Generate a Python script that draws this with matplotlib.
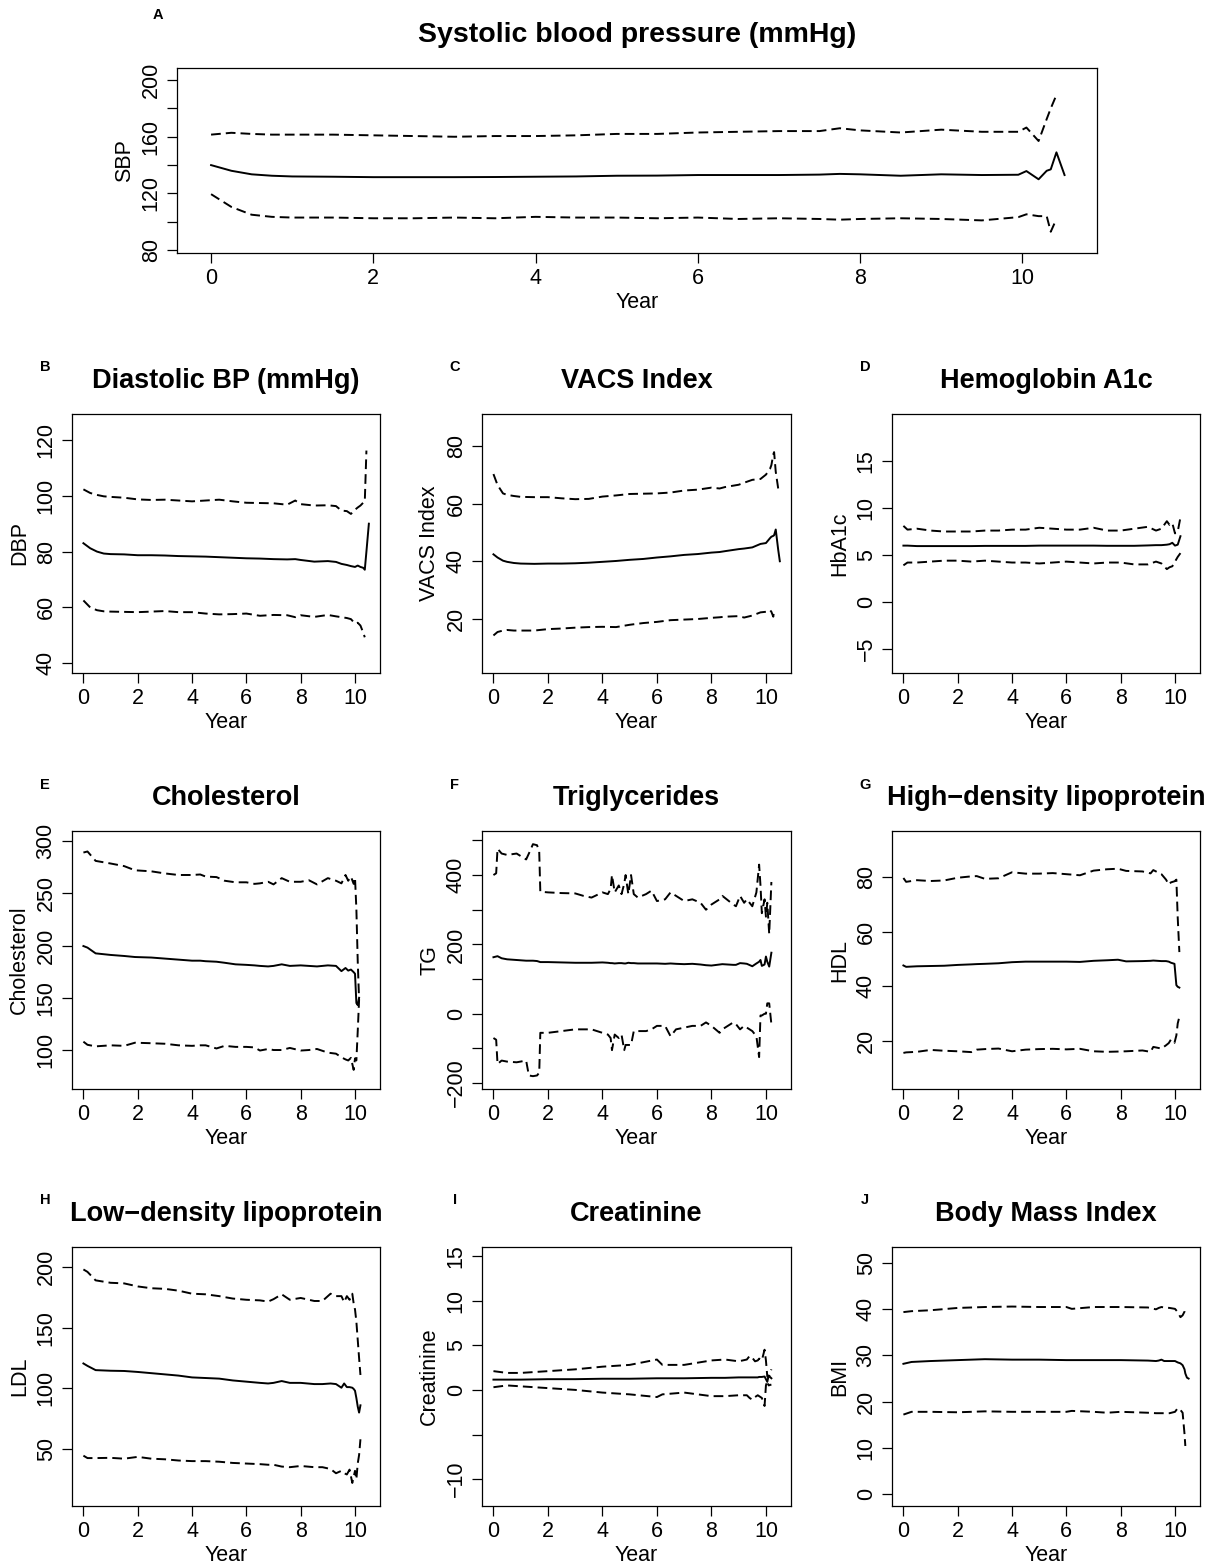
import numpy as np
import matplotlib
matplotlib.use("Agg")
from matplotlib import pyplot as plt

plt.rcParams['font.family'] = ['Liberation Sans', 'DejaVu Sans']

nan = np.nan

# A: systolic blood pressure
sbp_yr = [0, 0.25, 0.5, 0.75, 1, 1.5, 2, 2.5, 3, 3.5, 4, 4.5, 5, 5.5, 6, 6.5, 7, 7.5, 7.75, 8,
          8.5, 9, 9.5, 9.95, 10.05, 10.2, 10.3, 10.35, 10.42, 10.52]
sbp_mid = [140, 136, 133.5, 132.5, 132, 131.8, 131.5, 131.5, 131.5, 131.6, 131.8, 132, 132.5, 132.6,
           133, 133, 133, 133.3, 133.8, 133.5, 132.5, 133.5, 133, 133.2, 135.8, 130, 136, 137, 149, 133]
sbp_hi = [161.5, 162.8, 162, 161.5, 161.5, 161.5, 161, 160.5, 160, 160.5, 160.5, 161, 162, 162, 163,
          163.5, 164, 164, 166, 164.5, 163, 165, 163.5, 163.5, 166.5, 157, 172.5, 180, 189.5, nan]
sbp_lo = [119.5, 110.5, 105, 103.5, 103, 103, 102.5, 102.5, 103, 102.5, 103.5, 103, 103, 102.5, 103,
          102, 102.5, 102, 101.5, 102, 102.5, 102, 101, 103.3, 105.3, 104, 104, 93, 102, nan]

# B: diastolic BP
dbp_yr = [0, 0.25, 0.5, 0.75, 1, 1.5, 2, 2.5, 3, 3.5, 4, 4.5, 5, 5.5, 6, 6.5, 7, 7.5, 7.8, 8,
          8.5, 9, 9.3, 9.5, 9.7, 9.85, 10, 10.1, 10.2, 10.3, 10.36, 10.42, 10.51]
dbp_mid = [83, 81.2, 80, 79.3, 79.1, 79, 78.7, 78.7, 78.6, 78.4, 78.3, 78.2, 78, 77.8, 77.6, 77.5,
           77.3, 77.2, 77.3, 77, 76.4, 76.6, 76.3, 75.6, 75.2, 74.8, 74.5, 75, 74.5, 74.2, 73.5, 80, 90]
dbp_hi = [102.3, 101, 100.3, 99.8, 99.6, 99.3, 98.7, 98.5, 98.6, 98.3, 98, 98.3, 98.6, 98, 97.5, 97.4,
          97.3, 96.8, 98.3, 97, 96.5, 96.6, 96.3, 94.7, 94.5, 93.5, 95, 95.8, 96.5, 97.5, 98, 116.2, nan]
dbp_lo = [62.5, 60, 59, 58.6, 58.5, 58.4, 58.3, 58.5, 58.7, 58.3, 58.3, 57.8, 57.5, 57.6, 57.8, 57,
          57.3, 57.2, 56.5, 57.2, 56.6, 57.3, 56.8, 56.5, 56.2, 55.8, 54.2, 54.5, 53.5, 51, 49.3, nan, nan]

# C: VACS index
vacs_yr = [0, 0.15, 0.35, 0.5, 0.75, 1, 1.5, 2, 2.5, 3, 3.5, 4, 4.5, 5, 5.5, 6, 6.5, 7, 7.5, 8,
           8.3, 8.5, 9, 9.2, 9.5, 9.8, 10, 10.15, 10.2, 10.27, 10.3, 10.36, 10.45, 10.51]
vacs_mid = [42.4, 41.3, 40.2, 39.8, 39.4, 39.2, 39.1, 39.2, 39.2, 39.3, 39.5, 39.8, 40.1, 40.5, 40.8,
            41.3, 41.7, 42.2, 42.5, 43, 43.2, 43.5, 44.2, 44.4, 44.8, 46, 46.3, 48, 48.5, 48.8, 49, 51, 44, 40]
vacs_hi = [70.2, 66.4, 63.5, 63, 62.6, 62.3, 62.2, 62.2, 61.8, 61.5, 61.6, 62.4, 62.8, 63.3, 63.4, 63.5,
           63.8, 64.5, 64.8, 65.5, 65.2, 65.7, 66.5, 67.2, 68.2, 68.5, 70, 72, 73.3, 77, 77.8, 71, 65.2, nan]
vacs_lo = [14.3, 15.5, 16, 16.2, 16, 16, 16, 16.5, 16.7, 17, 17.2, 17.3, 17.2, 18, 18.6, 19, 19.6, 19.8,
           20, 20.4, 20.6, 20.8, 21, 20.5, 21.2, 22.3, 22.5, 23.1, 22.5, 20.8, 23.3, nan, nan, nan]

# D: hemoglobin A1c
hba_yr = [0, 0.15, 0.5, 1, 1.5, 2, 2.5, 3, 3.5, 4, 4.5, 5, 5.5, 6, 6.5, 7, 7.5, 8, 8.5, 9,
          9.3, 9.5, 9.7, 9.8, 9.9, 10, 10.1, 10.2]
hba_mid = [6.0, 6.0, 5.95, 5.95, 5.95, 5.95, 5.95, 5.97, 5.97, 5.97, 5.97, 6.0, 6.0, 6.0, 6.0, 6.0,
           5.98, 5.98, 5.98, 6.02, 6.05, 6.05, 6.1, 6.15, 6.3, 6.0, 6.1, 7.0]
hba_hi = [8.1, 7.7, 7.8, 7.6, 7.5, 7.5, 7.5, 7.6, 7.6, 7.7, 7.7, 7.9, 7.8, 7.7, 7.7, 7.9, 7.6, 7.6,
          7.8, 8.0, 7.6, 7.8, 8.6, 8.2, 8.4, 7.3, 7.5, 9.0]
hba_lo = [3.9, 4.2, 4.2, 4.3, 4.4, 4.4, 4.3, 4.4, 4.3, 4.2, 4.2, 4.1, 4.2, 4.3, 4.2, 4.1, 4.2, 4.2,
          4.0, 4.0, 4.3, 4.1, 3.5, 3.7, 3.8, 4.3, 4.8, 5.2]

# E: cholesterol
chol_yr = [0, 0.15, 0.45, 1, 1.5, 1.9, 2.5, 3, 3.5, 4, 4.3, 4.5, 4.9, 5.2, 5.6, 6, 6.3, 6.5, 6.8, 7,
           7.3, 7.6, 8, 8.3, 8.6, 9, 9.3, 9.5, 9.65, 9.75, 9.85, 9.95, 10, 10.05, 10.1, 10.15]
chol_mid = [199.5, 198, 192.5, 191, 190, 189, 188.5, 187.5, 186.5, 185.5, 185.5, 185, 184.5, 183.5, 182,
            181.5, 181, 180.5, 180, 180.5, 182, 180.5, 181, 180.5, 180, 181, 180.5, 175.5, 178.5, 176,
            177, 174.5, 173, 145, 143, 150]
chol_hi = [289, 290, 281, 278.5, 276, 272, 271, 269, 267.5, 267.5, 268, 266, 265.5, 262, 260.5, 260.5,
           259, 259.5, 261, 258.5, 264.5, 261, 261, 262.5, 258.5, 264.5, 262, 259.5, 267.5, 262, 266,
           259, 265, 235, 185, 148]
chol_lo = [108, 105, 103.5, 104.5, 104, 107, 106.5, 106, 104.5, 104, 104.5, 104.5, 101.5, 104, 103, 103,
           102.5, 99.5, 101, 100, 100, 102, 99.5, 100, 101, 97.5, 96.5, 93, 91, 90, 92.5, 81, 92, 90,
           118, 148]

# F: triglycerides
tg_yr = [0, 0.1, 0.15, 0.3, 0.5, 0.85, 1.2, 1.3, 1.45, 1.6, 1.68, 1.72, 2.0, 2.5, 3.0, 3.3, 3.6, 4.0,
         4.2, 4.3, 4.35, 4.45, 4.6, 4.7, 4.8, 4.85, 4.95, 5.05, 5.15, 5.3, 5.6, 5.8, 6.0, 6.3, 6.5,
         6.7, 7.0, 7.3, 7.6, 7.8, 8.0, 8.3, 8.4, 8.8, 8.9, 9.05, 9.2, 9.3, 9.5, 9.65, 9.75, 9.8,
         9.85, 9.95, 10.0, 10.05, 10.12, 10.2]
tg_mid = [163, 165, 166, 160, 157, 155, 153, 153, 153, 152, 150, 149, 149, 148, 147, 147, 147, 148,
          147, 146, 146, 145, 146, 146, 145, 145, 147, 146, 146, 145, 145, 145, 145, 144, 145, 144,
          143, 144, 142, 140, 139, 142, 143, 141, 141, 146, 145, 144, 137, 145, 150, 155, 138, 142,
          165, 150, 136, 176]
tg_hi = [400, 405, 476, 462, 458, 462, 445, 462, 489, 486, 467, 352, 350, 348, 347, 340, 335, 350,
         345, 360, 400, 350, 370, 345, 375, 400, 345, 400, 345, 335, 345, 355, 325, 330, 350, 340,
         325, 330, 320, 300, 315, 330, 340, 315, 310, 340, 320, 330, 310, 350, 430, 370, 290, 330,
         280, 320, 230, 380]
tg_lo = [-70, -75, -145, -135, -138, -140, -135, -178, -180, -178, -170, -55, -55, -50, -45, -45, -45,
         -55, -60, -70, -105, -60, -70, -60, -105, -90, -90, -90, -50, -50, -50, -45, -35, -35, -65,
         -45, -40, -35, -35, -25, -35, -55, -45, -25, -30, -45, -35, -40, -50, -65, -125, -5, -5, 0,
         0, 30, 30, -30]

# G: HDL
hdl_yr = [0, 0.1, 0.5, 1, 1.5, 2, 2.5, 2.7, 3, 3.5, 4, 4.5, 5, 5.5, 6, 6.5, 7, 7.5, 7.9, 8.2, 8.8,
          9.1, 9.2, 9.5, 9.67, 9.77, 9.85, 9.98, 10.05, 10.1, 10.16]
hdl_mid = [47.6, 47.1, 47.3, 47.4, 47.5, 47.8, 48, 48.1, 48.2, 48.4, 48.8, 49, 49, 49, 49, 48.9, 49.3,
           49.5, 49.7, 49.1, 49.2, 49.3, 49.4, 49.2, 49.2, 49, 48.6, 48.2, 40.4, 39.8, 39.5]
hdl_hi = [79.6, 78.2, 78.8, 78.5, 78.7, 79.7, 80.2, 80.3, 79.3, 79.5, 81.7, 81.2, 81.2, 81.4, 81, 80.6,
          82.3, 82.8, 83, 82.2, 82, 81.3, 82.5, 81, 79, 77.2, 78, 78.4, 79, 65, 52.5]
hdl_lo = [15.6, 15.8, 16, 16.7, 16.4, 16.2, 15.9, 16.8, 17, 17.2, 16.2, 16.8, 17, 17.1, 16.9, 17.1,
          16.2, 16, 16.1, 16.2, 16.5, 16, 17.8, 17.2, 18.4, 19.2, 20.5, 19.3, 22, 26.4, 28.8]

# H: LDL
ldl_yr = [0, 0.15, 0.45, 1, 1.5, 2, 2.5, 3, 3.5, 4, 4.5, 5, 5.5, 6, 6.5, 6.8, 7, 7.3, 7.6, 8, 8.5,
          8.8, 9.1, 9.3, 9.5, 9.6, 9.7, 9.8, 9.9, 9.95, 10, 10.05, 10.1, 10.15, 10.2]
ldl_mid = [120.5, 118.5, 115, 114.5, 114.3, 113.5, 112.5, 111.5, 110.5, 109, 108.5, 108, 106.5, 105.5,
           104.5, 104, 104.5, 106, 104.5, 104.5, 103.5, 103.5, 104, 103.5, 100.5, 104, 101, 101, 100.5,
           99.5, 98, 92, 85, 80, 86]
ldl_hi = [198, 196, 189, 187, 186.5, 184, 182.5, 182, 180.5, 178, 177.5, 176, 174, 173, 172.5, 171.5,
          173.5, 177.5, 173, 174.5, 172, 172, 178, 176, 176, 171, 176, 173, 178, 170, 165, 155, 140,
          125, 111]
ldl_lo = [44.5, 42.5, 42.5, 42.7, 42, 43.5, 42, 41.5, 40.5, 40, 40, 39.5, 38.5, 38, 37.5, 37, 37, 35.5,
          35, 36, 35, 35, 33.5, 30, 32, 30, 29, 33, 22, 27, 32, 25, 38, 45, 58]

# I: creatinine
cre_yr = [0, 0.5, 1, 2, 3, 4, 5, 6, 6.2, 7, 8, 8.5, 9, 9.3, 9.4, 9.5, 9.6, 9.7, 9.75, 9.85, 9.95,
          10, 10.05, 10.1, 10.2]
cre_mid = [1.15, 1.15, 1.15, 1.2, 1.2, 1.25, 1.25, 1.3, 1.3, 1.3, 1.35, 1.35, 1.4, 1.4, 1.4, 1.4, 1.4,
           1.4, 1.45, 1.45, 1.5, 1.2, 0.9, 1.6, 1.3]
cre_hi = [2.1, 1.9, 1.9, 2.1, 2.3, 2.6, 2.8, 3.4, 2.8, 2.8, 3.3, 3.4, 3.2, 3.4, 3.8, 3.6, 3.2, 3.3, 3.5,
          3.3, 4.5, 3.3, 1.5, 1.4, 2.3]
cre_lo = [0.3, 0.5, 0.4, 0.2, 0.0, -0.3, -0.5, -0.8, -0.5, -0.3, -0.7, -0.7, -0.6, -0.6, -0.9, -1.1,
          -0.8, -0.6, -0.7, -0.9, -1.8, 0.5, 1.0, 0.5, 0.6]

# J: body mass index
bmi_yr = [0, 0.3, 1, 2, 3, 4, 5, 6, 6.2, 7, 7.5, 8, 9, 9.3, 9.4, 9.5, 9.6, 9.8, 10, 10.1, 10.2,
          10.28, 10.35, 10.38, 10.44, 10.5]
bmi_mid = [28.2, 28.6, 28.8, 29, 29.2, 29.1, 29.1, 29, 29, 29, 29, 29, 28.9, 28.8, 28.9, 29.1, 28.8,
           28.8, 28.8, 28.5, 28.3, 27.9, 27, 26.1, 25.2, 25]
bmi_hi = [39.4, 39.6, 39.8, 40.3, 40.5, 40.6, 40.5, 40.5, 40.1, 40.5, 40.5, 40.5, 40.4, 40, 40.3, 40.5,
          40.4, 40.3, 40.1, 39.4, 38.3, 38.7, 39.5, 40.6, nan, nan]
bmi_lo = [17.2, 17.8, 17.8, 17.7, 17.9, 17.8, 17.8, 17.8, 18, 17.8, 17.6, 17.8, 17.6, 17.5, 17.5, 17.5,
          17.5, 17.5, 17.8, 18.6, 18.2, 17.6, 13, 10.4, nan, nan]

x_ticks = [0, 2, 4, 6, 8, 10]

W, H = 1214, 1566
fig = plt.figure(figsize=(W / 100, H / 100), dpi=100)

MINUS = '\u2212'


def fmt(v):
    s = str(int(v))
    return s.replace('-', MINUS)


def panel(box, letter, letter_xy, title, ylabel, yrs, mid, hi, lo, ylim, yticks, ylabels,
          title_size=19.5):
    l, t, r, b = box
    ax = fig.add_axes([l / W, 1 - b / H, (r - l) / W, (b - t) / H])
    ax.plot(yrs, mid, color='black', lw=1.4, solid_joinstyle='round')
    ax.plot(yrs, hi, color='black', lw=1.4, linestyle=(0, (5, 2.6)))
    ax.plot(yrs, lo, color='black', lw=1.4, linestyle=(0, (5, 2.6)))
    ax.set_xlim(-0.42, 10.92)
    ax.set_ylim(*ylim)
    ax.set_xticks(x_ticks)
    ax.set_xticklabels([str(v) for v in x_ticks])
    ax.set_yticks(yticks)
    ax.set_yticklabels([fmt(v) if v in ylabels else '' for v in yticks],
                       rotation=90, va='center')
    ax.tick_params(direction='out', length=7, width=0.9, labelsize=15.5, pad=4)
    for sp in ax.spines.values():
        sp.set_linewidth(0.9)
    ax.set_xlabel('Year', fontsize=15.5, labelpad=2)
    ax.set_ylabel(ylabel, fontsize=15.5, labelpad=4)
    cx = (l + r) / 2
    fig.text(cx / W, 1 - (t - 33) / H, title, ha='center', va='center',
             fontsize=title_size, fontweight='bold')
    fig.text(letter_xy[0] / W, 1 - letter_xy[1] / H, letter, ha='center', va='center',
             fontsize=10.5, fontweight='bold')
    return ax


panel((177, 68, 1097, 253), 'A', (158, 15), 'Systolic blood pressure (mmHg)', 'SBP',
      sbp_yr, sbp_mid, sbp_hi, sbp_lo, (78, 208.5),
      [80, 100, 120, 140, 160, 180, 200], [80, 120, 160, 200], title_size=20.5)

cols = [(72, 380), (482, 791), (892, 1200)]
rows = [(414, 673), (831, 1089), (1247, 1506)]
lx = [45, 455, 865]
ly = [367, 785, 1200]

panel((cols[0][0], rows[0][0], cols[0][1], rows[0][1]), 'B', (lx[0], ly[0]),
      'Diastolic BP (mmHg)', 'DBP', dbp_yr, dbp_mid, dbp_hi, dbp_lo, (36.5, 129.3),
      [40, 60, 80, 100, 120], [40, 60, 80, 100, 120])
panel((cols[1][0], rows[0][0], cols[1][1], rows[0][1]), 'C', (lx[1], ly[0]),
      'VACS Index', 'VACS Index', vacs_yr, vacs_mid, vacs_hi, vacs_lo, (1.3, 91),
      [20, 40, 60, 80], [20, 40, 60, 80])
panel((cols[2][0], rows[0][0], cols[2][1], rows[0][1]), 'D', (lx[2], ly[0]),
      'Hemoglobin A1c', 'HbA1c', hba_yr, hba_mid, hba_hi, hba_lo, (-7.55, 20),
      [-5, 0, 5, 10, 15], [-5, 0, 5, 10, 15])

panel((cols[0][0], rows[1][0], cols[0][1], rows[1][1]), 'E', (lx[0], ly[1]),
      'Cholesterol', 'Cholesterol', chol_yr, chol_mid, chol_hi, chol_lo, (62.7, 309.6),
      [100, 150, 200, 250, 300], [100, 150, 200, 250, 300])
panel((cols[1][0], rows[1][0], cols[1][1], rows[1][1]), 'F', (lx[1], ly[1]),
      'Triglycerides', 'TG', tg_yr, tg_mid, tg_hi, tg_lo, (-217, 527),
      [-200, -100, 0, 100, 200, 300, 400, 500], [-200, 0, 200, 400])
panel((cols[2][0], rows[1][0], cols[2][1], rows[1][1]), 'G', (lx[2], ly[1]),
      'High' + MINUS + 'density lipoprotein', 'HDL', hdl_yr, hdl_mid, hdl_hi, hdl_lo, (2.4, 96.8),
      [20, 40, 60, 80], [20, 40, 60, 80])

panel((cols[0][0], rows[2][0], cols[0][1], rows[2][1]), 'H', (lx[0], ly[2]),
      'Low' + MINUS + 'density lipoprotein', 'LDL', ldl_yr, ldl_mid, ldl_hi, ldl_lo, (3, 216.5),
      [50, 100, 150, 200], [50, 100, 150, 200])
panel((cols[1][0], rows[2][0], cols[1][1], rows[2][1]), 'I', (lx[1], ly[2]),
      'Creatinine', 'Creatinine', cre_yr, cre_mid, cre_hi, cre_lo, (-13, 16),
      [-10, -5, 0, 5, 10, 15], [-10, 0, 5, 10, 15])
panel((cols[2][0], rows[2][0], cols[2][1], rows[2][1]), 'J', (lx[2], ly[2]),
      'Body Mass Index', 'BMI', bmi_yr, bmi_mid, bmi_hi, bmi_lo, (-2.6, 53.5),
      [0, 10, 20, 30, 40, 50], [0, 10, 20, 30, 40, 50])

fig.savefig('out.png', dpi=100)
